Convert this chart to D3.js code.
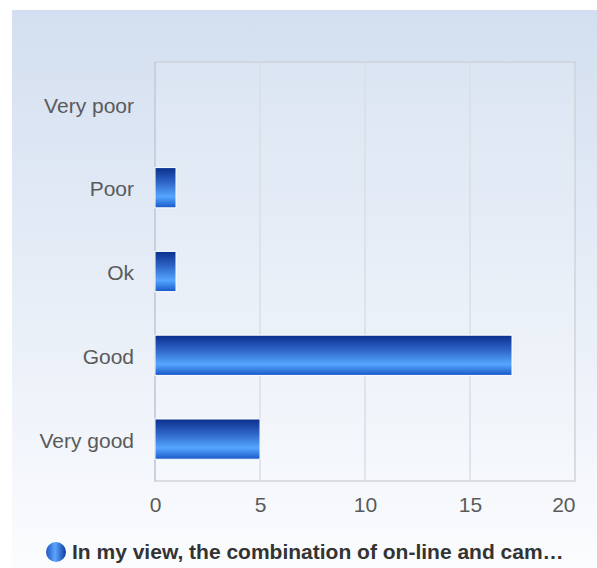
<!DOCTYPE html>
<html>
<head>
<meta charset="utf-8">
<script src="https://cdn.jsdelivr.net/npm/d3@7"></script>
<style>
  body { margin: 0; background: #fff; }
  svg { display: block; }
</style>
</head>
<body>
<div id="chart"></div>
<script>
var categories = ["Very poor", "Poor", "Ok", "Good", "Very good"],
    values = [0, 1, 1, 17, 5],
    xTicks = [0, 5, 10, 15, 20],
    seriesName = "In my view, the combination of on-line and cam\u2026";

var width = 597,
    height = 568,
    margin = {top: 62, right: 22, bottom: 87, left: 155};

var svg = d3.select("#chart").append("svg")
  .attr("width", width)
  .attr("height", height);

var defs = svg.append("defs");

// page background, blue at top fading to white
var bg = defs.append("linearGradient")
  .attr("id", "bg").attr("x1", 0).attr("y1", 0).attr("x2", 0).attr("y2", 1);
bg.append("stop").attr("offset", "0%").attr("stop-color", "#d3dff0");
bg.append("stop").attr("offset", "100%").attr("stop-color", "#fbfcfe");

// bar fill
var barGrad = defs.append("linearGradient")
  .attr("id", "barGrad").attr("x1", 0).attr("y1", 0).attr("x2", 0).attr("y2", 1);
barGrad.append("stop").attr("offset", "0%").attr("stop-color", "#0a2f8c");
barGrad.append("stop").attr("offset", "35%").attr("stop-color", "#2c62c4");
barGrad.append("stop").attr("offset", "72%").attr("stop-color", "#55a6ff");
barGrad.append("stop").attr("offset", "100%").attr("stop-color", "#1858c8");

// legend dot
var dotGrad = defs.append("linearGradient")
  .attr("id", "dotGrad").attr("x1", 0).attr("y1", 0).attr("x2", 1).attr("y2", 0);
dotGrad.append("stop").attr("offset", "0%").attr("stop-color", "#1e56c0");
dotGrad.append("stop").attr("offset", "45%").attr("stop-color", "#5aa6ff");
dotGrad.append("stop").attr("offset", "100%").attr("stop-color", "#0d3a9c");

svg.append("rect")
  .attr("x", 12).attr("y", 10)
  .attr("width", width - 12).attr("height", height - 10)
  .attr("fill", "url(#bg)");

var x = d3.scaleLinear()
  .domain([0, 20])
  .range([margin.left, width - margin.right]);

var y = d3.scaleBand()
  .domain(categories)
  .range([margin.top, height - margin.bottom])
  .paddingInner(0.52)
  .paddingOuter(0.26);

var plotTop = margin.top, plotBottom = height - margin.bottom;
var font = "21px 'Liberation Sans', Arial, sans-serif";

// plot area
svg.append("rect")
  .attr("x", x(0)).attr("y", plotTop)
  .attr("width", x(20) - x(0)).attr("height", plotBottom - plotTop)
  .attr("fill", "rgba(255,255,255,0.12)")
  .attr("stroke", "#cfd3d9")
  .attr("stroke-width", 1.5);

// vertical grid
svg.selectAll(".grid")
  .data(xTicks.slice(1, -1))
  .enter().append("line")
  .attr("class", "grid")
  .attr("x1", function(d) { return x(d); })
  .attr("x2", function(d) { return x(d); })
  .attr("y1", plotTop).attr("y2", plotBottom)
  .attr("stroke", "#dadee4")
  .attr("stroke-width", 1.5);

// left axis line
svg.append("line")
  .attr("x1", x(0)).attr("x2", x(0))
  .attr("y1", plotTop).attr("y2", plotBottom)
  .attr("stroke", "#c3cde0")
  .attr("stroke-width", 1.5);

// x axis
var xAxis = svg.append("g")
  .attr("transform", "translate(0," + plotBottom + ")")
  .call(d3.axisBottom(x).tickValues(xTicks).tickSize(0).tickPadding(16));
xAxis.select(".domain").remove();
xAxis.selectAll("text")
  .style("font", font)
  .attr("fill", "#5a5a5a")
  .attr("text-anchor", function(d) { return d === 20 ? "end" : "middle"; });

// y axis
var yAxis = svg.append("g")
  .attr("transform", "translate(" + x(0) + ",2)")
  .call(d3.axisLeft(y).tickSize(0).tickPadding(21));
yAxis.select(".domain").remove();
yAxis.selectAll("text")
  .style("font", font)
  .attr("fill", "#5a5a5a");

// bars
svg.selectAll(".bar")
  .data(categories.map(function(c, i) { return {cat: c, val: values[i]}; })
    .filter(function(d) { return d.val > 0; }))
  .enter().append("rect")
  .attr("class", "bar")
  .attr("x", x(0))
  .attr("y", function(d) { return y(d.cat); })
  .attr("width", function(d) { return x(d.val) - x(0); })
  .attr("height", y.bandwidth())
  .attr("fill", "url(#barGrad)")
  .attr("stroke", "#fff")
  .attr("stroke-width", 1);

// legend
var legend = svg.append("g").attr("transform", "translate(56,552)");
legend.append("circle")
  .attr("r", 10)
  .attr("fill", "url(#dotGrad)");
legend.append("text")
  .attr("x", 16)
  .attr("dy", "0.35em")
  .style("font", "bold 21px 'Liberation Sans', Arial, sans-serif")
  .attr("fill", "#333")
  .text(seriesName);
</script>
</body>
</html>
